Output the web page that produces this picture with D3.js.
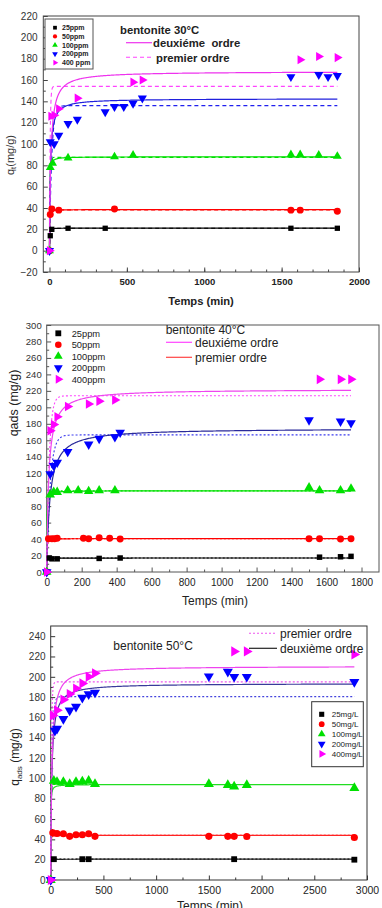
<!DOCTYPE html>
<html>
<head>
<meta charset="utf-8">
<script src="https://cdn.jsdelivr.net/npm/d3@7"></script>
<style>
body { margin: 0; background: #fff; }
text { font-family: Arial, "Liberation Sans", sans-serif; }
</style>
</head>
<body>
<script>
var W = 382, H = 908;

var colors = ["#000000", "#ff0000", "#00e000", "#0000ff", "#ff00ff"];
var shapes = ["square", "circle", "up", "down", "right"];
var labels30 = ["25ppm", "50ppm", "100ppm", "200ppm", "400 ppm"];
var labels40 = ["25ppm", "50ppm", "100ppm", "200ppm", "400ppm"];
var labels50 = ["25mg/L", "50mg/L", "100mg/L", "200mg/L", "400mg/L"];

// bentonite 30°C
var t30_25 = [0, 5, 15, 120, 360, 1560, 1860];
var q30_25 = [0, 14, 20, 21, 21, 21, 21];
var t30_50 = [0, 5, 15, 60, 420, 1560, 1620, 1860];
var q30_50 = [0, 34, 39, 38, 39, 38, 38, 37];
var t30_100 = [0, 5, 20, 120, 420, 540, 1560, 1620, 1740, 1860];
var q30_100 = [0, 78, 82, 87, 88, 89.5, 90, 90, 89.5, 88.5];
var t30_200 = [0, 5, 30, 60, 120, 180, 360, 420, 480, 540, 600, 1560, 1740, 1800, 1860];
var q30_200 = [0, 102, 100, 108, 119, 123, 130, 135, 135, 138, 143, 163, 165, 163, 164];
var t30_400 = [0, 10, 30, 60, 180, 540, 600, 1620, 1740, 1860];
var q30_400 = [0, 126, 127, 133, 143, 158, 160, 179, 182, 181];

// bentonite 40°C
var t40_25 = [0, 15, 30, 60, 300, 420, 1560, 1680, 1740];
var q40_25 = [0, 17, 16, 16, 16.5, 17, 18, 18.5, 19];
var t40_50 = [0, 10, 30, 45, 60, 210, 240, 300, 360, 420, 1500, 1560, 1680, 1740];
var q40_50 = [0, 40.5, 40.5, 40.5, 41, 41, 40.5, 41.5, 41, 40, 40.5, 40.5, 40, 40.5];
var t40_100 = [0, 20, 40, 60, 120, 180, 240, 300, 390, 1500, 1560, 1680, 1740];
var q40_100 = [0, 94, 97, 97, 99, 99, 98, 99, 99, 102.5, 99, 99, 101];
var t40_200 = [0, 20, 40, 60, 120, 240, 300, 390, 420, 1500, 1680, 1740];
var q40_200 = [0, 119, 129, 133, 146, 155, 162, 164, 169.5, 184.5, 183, 181];
var t40_400 = [0, 20, 40, 60, 120, 240, 300, 390, 1560, 1680, 1740];
var q40_400 = [0, 171.5, 179, 188.5, 201, 204, 207.5, 209, 234, 234, 234];

// bentonite 50°C
var t50_25 = [0, 30, 300, 360, 1740, 2880];
var q50_25 = [0, 20.5, 20.5, 20.5, 20.5, 20];
var t50_50 = [0, 20, 60, 120, 180, 240, 300, 360, 420, 1500, 1680, 1740, 1860, 2880];
var q50_50 = [0, 46.5, 45.8, 45.5, 43, 44.5, 44.5, 45.5, 43, 43, 43, 43, 42.8, 41.8];
var t50_100 = [0, 30, 60, 120, 180, 240, 300, 360, 420, 1500, 1680, 1740, 1860, 2880];
var q50_100 = [0, 97.5, 96.5, 96.5, 94.5, 96.5, 97, 97.5, 94.5, 94.5, 93.5, 92, 93.5, 90.5];
var t50_200 = [0, 40, 60, 120, 180, 240, 300, 360, 420, 1500, 1680, 1740, 1860, 2880];
var q50_200 = [0, 147, 149, 158.5, 167, 170.5, 179.5, 183, 184.5, 200.5, 205, 200, 200, 195];
var t50_400 = [0, 20, 60, 120, 180, 240, 300, 360, 420, 1740, 1860, 2880];
var q50_400 = [0, 162, 167, 177.5, 183, 188.5, 193.5, 200, 203.5, 225, 225, 222];

// fitted kinetic parameters (25, 50, 100, 200, 400)
var qe2_30 = [21.2, 38.5, 88, 142.5, 168];
var k2_30 = [0.07, 0.04, 0.011, 0.0013, 0.0007];
var qe1_30 = [21, 38.2, 87.5, 136, 154];
var k1_30 = [0.3, 0.3, 0.25, 0.07, 0.25];

var qe2_40 = [17, 40.5, 98.7, 174.5, 222];
var k2_40 = [0.08, 0.05, 0.01, 0.000315, 0.0004];
var qe1_40 = [17, 40.5, 98.5, 166.5, 214];
var k1_40 = [0.3, 0.3, 0.3, 0.05, 0.07];

var qe2_50 = [20.5, 44, 94, 193.5, 210.5];
var k2_50 = [0.08, 0.05, 0.01, 0.00052, 0.00043];
var qe1_50 = [20.5, 44, 94, 180.5, 195];
var k1_50 = [0.3, 0.3, 0.3, 0.08, 0.15];

var svg = d3.select("body").append("svg")
    .attr("width", W)
    .attr("height", H)
    .style("display", "block");

svg.append("rect").attr("width", W).attr("height", H).attr("fill", "#fff");

function symbolPath(shape, size) {
    var type = (shape == "square") ? d3.symbolSquare : (shape == "circle") ? d3.symbolCircle : d3.symbolTriangle;
    return d3.symbol().type(type).size(size)();
}
function symbolRot(shape) {
    if (shape == "down") return " rotate(180)";
    if (shape == "right") return " rotate(90)";
    return "";
}

function drawPanel(p) {
    var g = svg.append("g");
    var x = d3.scaleLinear().domain(p.xDomain).range(p.xRange);
    var y = d3.scaleLinear().domain(p.yDomain).range(p.yRange);

    // ticks (inward) and labels
    var xa = g.append("g").attr("transform", "translate(0," + p.yRange[0] + ")")
        .call(d3.axisBottom(x).tickValues(p.xTicks).tickSize(-4.5).tickPadding(p.xPad).tickFormat(d3.format("d")));
    g.append("g").attr("transform", "translate(0," + p.yRange[0] + ")")
        .call(d3.axisBottom(x).tickValues(p.xMinor).tickSize(-2.5).tickFormat(""));
    var ya = g.append("g").attr("transform", "translate(" + p.xRange[0] + ",0)")
        .call(d3.axisLeft(y).tickValues(p.yTicks).tickSize(-4.5).tickPadding(p.yPad).tickFormat(d3.format("d")));
    g.append("g").attr("transform", "translate(" + p.xRange[0] + ",0)")
        .call(d3.axisLeft(y).tickValues(p.yMinor).tickSize(-2.5).tickFormat(""));
    g.selectAll(".domain").remove();
    g.selectAll(".tick line").attr("stroke", p.frame);
    xa.selectAll("text").attr("font-size", p.xFont).attr("font-weight", p.xBold ? "bold" : "normal")
        .attr("fill", "#222").attr("font-family", "Arial, Liberation Sans, sans-serif");
    ya.selectAll("text").attr("font-size", p.yFont).attr("fill", "#333")
        .attr("font-family", "Arial, Liberation Sans, sans-serif");

    g.append("rect")
        .attr("x", p.xRange[0]).attr("y", p.yRange[1])
        .attr("width", p.xRange[1] - p.xRange[0])
        .attr("height", p.yRange[0] - p.yRange[1])
        .attr("fill", "none").attr("stroke", p.frame).attr("stroke-width", 1);

    // model curves
    var ts = d3.range(0, 60, 0.5).concat(d3.range(60, p.tEnd, 5)).concat([p.tEnd]);
    var line = d3.line().x(function(d) { return x(d[0]); }).y(function(d) { return y(d[1]); });
    for (var i = 0; i < 5; i++) {
        var qe1 = p.qe1[i], k1 = p.k1[i], qe2 = p.qe2[i], k2 = p.k2[i];
        g.append("path")
            .attr("d", line(ts.map(function(t) { return [t, qe1 * (1 - Math.exp(-k1 * t))]; })))
            .attr("fill", "none").attr("stroke", p.c1[i]).attr("stroke-width", 1.1)
            .attr("stroke-dasharray", p.dash);
        g.append("path")
            .attr("d", line(ts.map(function(t) { return [t, qe2 * qe2 * k2 * t / (1 + qe2 * k2 * t)]; })))
            .attr("fill", "none").attr("stroke", p.c2[i]).attr("stroke-width", 1.2);
    }

    // data points
    p.data.forEach(function(s, i) {
        g.selectAll(null)
            .data(s.t.map(function(t, j) { return [t, s.q[j]]; }))
            .enter()
            .append("path")
            .attr("d", symbolPath(shapes[i], p.sizes[i]))
            .attr("transform", function(d) {
                return "translate(" + x(d[0]) + "," + y(d[1]) + ")" + symbolRot(shapes[i]);
            })
            .attr("fill", colors[i]);
    });
    return g;
}

var dark = ["#000000", "#ff0000", "#00e000", "#2a2a9a", "#ee44ee"];

// ---------- panel 1 : 30°C
var p1 = drawPanel({
    xDomain: [-40, 2000], xRange: [43.3, 359],
    yDomain: [-20, 220], yRange: [272, 16],
    xTicks: d3.range(0, 2001, 500), xMinor: d3.range(100, 2000, 100),
    yTicks: d3.range(-20, 221, 20), yMinor: d3.range(-10, 220, 20),
    xPad: 6.4, yPad: 5.8, xFont: 9.5, yFont: 10, xBold: true, frame: "#444",
    tEnd: 1860, dash: "4,3",
    qe1: qe1_30, k1: k1_30, qe2: qe2_30, k2: k2_30,
    c1: ["#000", "#ff0000", "#00e000", "#2020ee", "#ff44ff"],
    c2: ["#000", "#ff0000", "#00e000", "#2020dd", "#ee33ee"],
    sizes: [28, 38, 34, 36, 36],
    data: [{t: t30_25, q: q30_25}, {t: t30_50, q: q30_50}, {t: t30_100, q: q30_100},
           {t: t30_200, q: q30_200}, {t: t30_400, q: q30_400}]
});

p1.append("rect").attr("x", 45).attr("y", 19).attr("width", 48).attr("height", 50)
    .attr("fill", "#fff").attr("stroke", "#555").attr("stroke-width", 1);
labels30.forEach(function(l, i) {
    var yy = 27.7 + i * 8.75;
    p1.append("path").attr("d", symbolPath(shapes[i], 14))
        .attr("transform", "translate(55," + yy + ")" + symbolRot(shapes[i]))
        .attr("fill", colors[i]);
    p1.append("text").attr("x", 62).attr("y", yy + 2.5).attr("font-size", 7)
        .attr("font-weight", "bold").attr("fill", "#222").text(l);
});
p1.append("text").attr("x", 120).attr("y", 34).attr("font-size", 11.3)
    .attr("font-weight", "bold").attr("fill", "#222").text("bentonite 30°C");
p1.append("line").attr("x1", 126).attr("x2", 152).attr("y1", 42.7).attr("y2", 42.7)
    .attr("stroke", "#ee33ee").attr("stroke-width", 1.2);
p1.append("text").attr("x", 153).attr("y", 47).attr("font-size", 11.3)
    .attr("font-weight", "bold").attr("fill", "#222").style("white-space", "pre").text("deuxiéme  ordre");
p1.append("line").attr("x1", 126).attr("x2", 153).attr("y1", 57.3).attr("y2", 57.3)
    .attr("stroke", "#ff44ff").attr("stroke-width", 1.1).attr("stroke-dasharray", "4,3");
p1.append("text").attr("x", 156).attr("y", 61.5).attr("font-size", 11.3)
    .attr("font-weight", "bold").attr("fill", "#222").text("premier ordre");
p1.append("text").attr("x", 201).attr("y", 305).attr("text-anchor", "middle")
    .attr("font-size", 11.2).attr("font-weight", "bold").attr("fill", "#222").text("Temps (min)");
var yt1 = p1.append("text").attr("transform", "translate(13.5,155) rotate(-90)")
    .attr("text-anchor", "middle").attr("font-size", 11).attr("fill", "#333");
yt1.append("tspan").text("q");
yt1.append("tspan").attr("font-size", 7.5).attr("dy", 2).text("t");
yt1.append("tspan").attr("dy", -2).text("(mg/g)");

// ---------- panel 2 : 40°C
var p2 = drawPanel({
    xDomain: [0, 1900], xRange: [46.7, 379],
    yDomain: [0, 300], yRange: [572, 325],
    xTicks: d3.range(0, 1801, 200), xMinor: d3.range(100, 1900, 200),
    yTicks: d3.range(0, 301, 20), yMinor: d3.range(10, 300, 20),
    xPad: 6.9, yPad: 5, xFont: 10, yFont: 9.5, xBold: false, frame: "#555",
    tEnd: 1740, dash: "2,2",
    qe1: qe1_40, k1: k1_40, qe2: qe2_40, k2: k2_40,
    c1: ["#000", "#ff0000", "#00e000", "#3a3aee", "#ff44ff"],
    c2: dark,
    sizes: [30, 38, 40, 40, 40],
    data: [{t: t40_25, q: q40_25}, {t: t40_50, q: q40_50}, {t: t40_100, q: q40_100},
           {t: t40_200, q: q40_200}, {t: t40_400, q: q40_400}]
});
labels40.forEach(function(l, i) {
    var yy = 333.3 + i * 11.5;
    p2.append("path").attr("d", symbolPath(shapes[i], 34))
        .attr("transform", "translate(58.3," + yy + ")" + symbolRot(shapes[i]))
        .attr("fill", colors[i]);
    p2.append("text").attr("x", 71.7).attr("y", yy + 3.3).attr("font-size", 9.3)
        .attr("fill", "#222").text(l);
});
p2.append("text").attr("x", 165.7).attr("y", 334.3).attr("font-size", 12).attr("fill", "#222").text("bentonite 40°C");
p2.append("line").attr("x1", 166).attr("x2", 192).attr("y1", 342.3).attr("y2", 342.3)
    .attr("stroke", "#ff44ff").attr("stroke-width", 1.2);
p2.append("text").attr("x", 195).attr("y", 346.5).attr("font-size", 12).attr("fill", "#222").text("deuxiéme ordre");
p2.append("line").attr("x1", 166).attr("x2", 192).attr("y1", 357.3).attr("y2", 357.3)
    .attr("stroke", "#ff4444").attr("stroke-width", 1.2);
p2.append("text").attr("x", 195).attr("y", 361.5).attr("font-size", 12).attr("fill", "#222").text("premier ordre");
p2.append("text").attr("x", 215).attr("y", 604.5).attr("text-anchor", "middle")
    .attr("font-size", 12).attr("fill", "#222").text("Temps (min)");
p2.append("text").attr("transform", "translate(17.5,403) rotate(-90)")
    .attr("text-anchor", "middle").attr("font-size", 12.5).attr("fill", "#222").text("qads (mg/g)");

// ---------- panel 3 : 50°C
var p3 = drawPanel({
    xDomain: [0, 3000], xRange: [50.7, 367],
    yDomain: [0, 250], yRange: [880, 626],
    xTicks: d3.range(0, 3001, 500), xMinor: d3.range(250, 3000, 500),
    yTicks: d3.range(0, 241, 20), yMinor: d3.range(10, 250, 20),
    xPad: 6.2, yPad: 5.2, xFont: 10.5, yFont: 10, xBold: false, frame: "#333",
    tEnd: 2880, dash: "2,2",
    qe1: qe1_50, k1: k1_50, qe2: qe2_50, k2: k2_50,
    c1: ["#000", "#ff0000", "#00e000", "#4444dd", "#ee55ee"],
    c2: ["#222", "#ff2222", "#22dd22", "#3a3a9a", "#ee44ee"],
    sizes: [34, 40, 44, 44, 44],
    data: [{t: t50_25, q: q50_25}, {t: t50_50, q: q50_50}, {t: t50_100, q: q50_100},
           {t: t50_200, q: q50_200}, {t: t50_400, q: q50_400}]
});
p3.append("rect").attr("x", 311.7).attr("y", 701.7).attr("width", 51.6).attr("height", 65)
    .attr("fill", "#fff").attr("stroke", "#333").attr("stroke-width", 1);
labels50.forEach(function(l, i) {
    var yy = 714.3 + i * 9.9;
    p3.append("path").attr("d", symbolPath(shapes[i], 26))
        .attr("transform", "translate(321.7," + yy + ")" + symbolRot(shapes[i]))
        .attr("fill", colors[i]);
    p3.append("text").attr("x", 331.7).attr("y", yy + 2.8).attr("font-size", 8)
        .attr("fill", "#222").text(l);
});
p3.append("text").attr("x", 113.3).attr("y", 650).attr("font-size", 12).attr("fill", "#222").text("bentonite 50°C");
p3.append("line").attr("x1", 249).attr("x2", 277).attr("y1", 633.3).attr("y2", 633.3)
    .attr("stroke", "#ee55ee").attr("stroke-width", 1.1).attr("stroke-dasharray", "2,2");
p3.append("text").attr("x", 280).attr("y", 637.5).attr("font-size", 12).attr("fill", "#222").text("premier ordre");
p3.append("line").attr("x1", 249).attr("x2", 277).attr("y1", 648.3).attr("y2", 648.3)
    .attr("stroke", "#222").attr("stroke-width", 1.2);
p3.append("text").attr("x", 280).attr("y", 652.5).attr("font-size", 12).attr("fill", "#222").text("deuxième ordre");
p3.append("text").attr("x", 210).attr("y", 910).attr("text-anchor", "middle")
    .attr("font-size", 12).attr("fill", "#222").text("Temps (min)");
var yt3 = p3.append("text").attr("transform", "translate(19,757) rotate(-90)")
    .attr("text-anchor", "middle").attr("font-size", 12).attr("fill", "#222");
yt3.append("tspan").text("q");
yt3.append("tspan").attr("font-size", 8).attr("dy", 3).text("ads");
yt3.append("tspan").attr("dy", -3).text(" (mg/g)");
</script>
</body>
</html>
